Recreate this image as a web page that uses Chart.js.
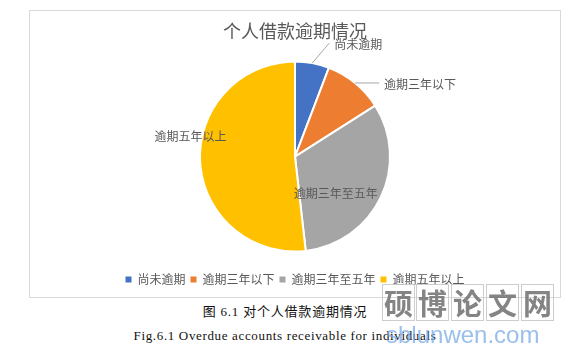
<!DOCTYPE html>
<html>
<head>
  <meta charset="utf-8">
  <title>个人借款逾期情况</title>
  <script src="https://cdn.jsdelivr.net/npm/chart.js"></script>
  <style>
    body {
      margin: 0;
      width: 570px;
      height: 355px;
      background: #fff;
      position: relative;
      overflow: hidden;
    }
    #frame {
      position: absolute;
      left: 29px;
      top: 10px;
      width: 532px;
      height: 288px;
      box-sizing: border-box;
      border: 1px solid #d9d9d9;
    }
    #chartBox {
      position: relative;
      width: 530px;
      height: 286px;
    }
    .caption {
      position: absolute;
      left: 0;
      width: 570px;
      text-align: center;
      color: #111;
      font-family: "Liberation Serif", "Noto Sans CJK SC", serif;
      font-size: 13px;
      white-space: nowrap;
    }
    #cap1 { top: 301px; letter-spacing: 0.8px; }
    #cap2 { top: 328px; letter-spacing: 0.65px; }
    .wm {
      position: absolute;
      top: 284px;
      width: 33px;
      height: 37px;
      border: 1px solid rgba(200, 200, 200, 0.9);
      box-sizing: border-box;
      font-family: "Noto Sans CJK SC", sans-serif;
      font-weight: bold;
      font-size: 29px;
      line-height: 35px;
      text-align: center;
      color: rgba(110, 110, 110, 0.85);
    }
    #wmUrl {
      position: absolute;
      left: 386px;
      top: 323px;
      font-family: "Liberation Sans", sans-serif;
      font-size: 24px;
      line-height: 24px;
      color: rgba(120, 170, 230, 0.75);
      white-space: nowrap;
    }
  </style>
</head>
<body>
  <div id="frame">
    <div id="chartBox">
      <canvas id="myChart"></canvas>
    </div>
  </div>
  <div class="caption" id="cap1">图 6.1 对个人借款逾期情况</div>
  <div class="caption" id="cap2">Fig.6.1 Overdue accounts receivable for individuals</div>

  <div class="wm" style="left:382px">硕</div>
  <div class="wm" style="left:416px">博</div>
  <div class="wm" style="left:451px">论</div>
  <div class="wm" style="left:486px">文</div>
  <div class="wm" style="left:521px">网</div>
  <div id="wmUrl">sblunwen.com</div>

  <script>
    // chart data (share of cases, %)
    const categories = ['尚未逾期', '逾期三年以下', '逾期三年至五年', '逾期五年以上'];
    const shares = [5.8, 10.2, 32.2, 51.8];
    const sliceColors = ['#4472C4', '#ED7D31', '#A5A5A5', '#FFC000'];

    const labelFont = '12px "Noto Sans CJK SC", sans-serif';
    const textGray = '#595959';

    // label placement per slice: outside ones get a leader line,
    // inside ones are offsets from the pie centre in radius units
    const labelPlacement = [
      { type: 'outside', dx: 17, dy: -20 },
      { type: 'outside', dx: 24, dy: 0 },
      { type: 'inside', fx: 0.43, fy: 0.39 },
      { type: 'inside', fx: -1.10, fy: -0.21 }
    ];

    const sliceLabels = {
      id: 'sliceLabels',
      afterDatasetsDraw(chart) {
        const ctx = chart.ctx;
        const meta = chart.getDatasetMeta(0);
        ctx.save();
        ctx.font = labelFont;
        ctx.fillStyle = textGray;
        ctx.textBaseline = 'middle';
        meta.data.forEach((arc, i) => {
          const p = labelPlacement[i];
          const r = arc.outerRadius;
          if (p.type === 'outside') {
            const mid = (arc.startAngle + arc.endAngle) / 2;
            const sx = arc.x + r * Math.cos(mid);
            const sy = arc.y + r * Math.sin(mid);
            const ex = sx + p.dx, ey = sy + p.dy;
            ctx.strokeStyle = '#a6a6a6';
            ctx.lineWidth = 1;
            ctx.beginPath();
            ctx.moveTo(sx, sy);
            ctx.lineTo(ex, ey);
            ctx.stroke();
            ctx.textAlign = 'left';
            ctx.fillText(categories[i], ex + 5, ey + 1);
          } else {
            ctx.textAlign = 'center';
            ctx.fillText(categories[i], arc.x + p.fx * r, arc.y + p.fy * r);
          }
        });
        ctx.restore();
      }
    };

    const ctx = document.getElementById('myChart').getContext('2d');
    new Chart(ctx, {
      type: 'pie',
      data: {
        labels: categories,
        datasets: [{
          data: shares,
          backgroundColor: sliceColors,
          borderColor: '#ffffff',
          borderWidth: 2,
          radius: 95
        }]
      },
      options: {
        responsive: true,
        maintainAspectRatio: false,
        animation: false,
        layout: { padding: { top: 0, bottom: 1.5, left: 0, right: 0 } },
        plugins: {
          tooltip: { enabled: false },
          title: {
            display: true,
            text: '个人借款逾期情况',
            color: textGray,
            font: { family: '"Noto Sans CJK SC", sans-serif', size: 18, weight: 'normal' },
            padding: { top: 9, bottom: 3 }
          },
          legend: {
            position: 'bottom',
            labels: {
              color: textGray,
              font: { family: '"Noto Sans CJK SC", sans-serif', size: 12 },
              boxWidth: 6,
              boxHeight: 6,
              padding: 5,
              generateLabels(chart) {
                return Chart.overrides.pie.plugins.legend.labels.generateLabels(chart)
                  .map(item => Object.assign(item, { lineWidth: 0, strokeStyle: 'rgba(0,0,0,0)' }));
              }
            }
          }
        }
      },
      plugins: [sliceLabels]
    });
  </script>
</body>
</html>
